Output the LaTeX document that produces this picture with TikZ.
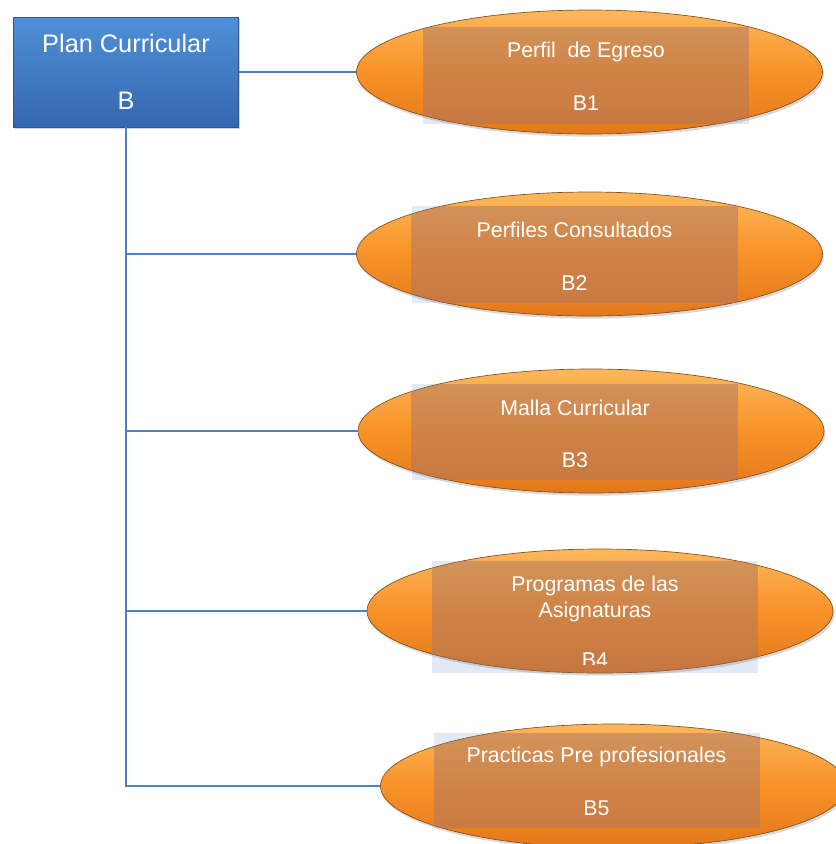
\documentclass[tikz,border=0pt]{standalone}
\usepackage{fontspec}
\setmainfont{Liberation Sans}
\usetikzlibrary{shapes.geometric,shadows}
\definecolor{boxtop}{RGB}{80,144,214}
\definecolor{boxbot}{RGB}{52,102,176}
\definecolor{linkblue}{RGB}{79,129,189}
\definecolor{leaftop}{RGB}{252,184,92}
\definecolor{leafmid}{RGB}{248,146,40}
\definecolor{leafbot}{RGB}{226,120,28}
\definecolor{leafedge}{RGB}{130,78,28}
\definecolor{tagbrown}{RGB}{170,118,100}
\definecolor{tagblue}{RGB}{226,234,246}

\begin{document}
\begin{tikzpicture}[x=0.75pt, y=-0.75pt,
    rootbox/.style={rectangle, minimum width=168.75pt, minimum height=82.5pt, inner sep=0pt,
        top color=boxtop, bottom color=boxbot, draw=boxbot!85!black, line width=0.4pt,
        drop shadow={shadow xshift=1.2pt, shadow yshift=-1.5pt, opacity=0.35},
        text=white, align=center, font=\fontsize{19}{23}\selectfont},
    leaf/.style={ellipse, minimum width=349.5pt, minimum height=93pt, inner sep=0pt,
        top color=leaftop, bottom color=leafbot, middle color=leafmid,
        draw=leafedge, line width=0.5pt,
        drop shadow={shadow xshift=1pt, shadow yshift=-2pt, opacity=0.3}},
    tag/.style={rectangle, minimum width=244.5pt, inner sep=0pt, fill=tagblue},
    tagtext/.style={text=white, align=center, inner sep=0pt, font=\fontsize{16}{19.5}\selectfont},
    link/.style={linkblue, line width=1.1pt}]

% Frame
\useasboundingbox (0,0) rectangle (836,844);

% Root box
\node[rootbox] (root) at (126,72) {Plan Curricular\\[20pt]B};

% Leaves (number / ellipse centre / tag centre / tag height)
\foreach \n/\ex/\ey/\tx/\ty/\th in {
1/589.5/72/586/75.5/72.75pt,
2/589.5/254/574.5/254.5/72.75pt,
3/591/431/574.5/432/72pt,
4/600/611/595/617/84pt,
5/613.5/786/597/780.5/71.25pt
} {
    \node[tag, minimum height=\th] (t\n) at (\tx,\ty) {};
    \node[leaf] (e\n) at (\ex,\ey) {};
    \begin{scope}
        \clip (e\n.center) ellipse [x radius=174.75pt, y radius=46.5pt];
        \fill[tagbrown, opacity=0.5] (t\n.north west) rectangle (t\n.south east);
    \end{scope}
}

% Connectors
\draw[link] (root.east) -- (e1.west);
\foreach \n in {2,...,5} {
    \draw[link] (root.south) |- (e\n.west);
}

% Labels
\node[tagtext] (l1) at (586,76.5) {Perfil~ de Egreso\\[20pt]B1};
\node[tagtext] (l2) at (574.5,256) {Perfiles Consultados\\[20pt]B2};
\node[tagtext] (l3) at (575,434) {Malla Curricular\\[20pt]B3};
\begin{scope}
    \clip (t4.north west) rectangle ([yshift=6.75pt]t4.south east);
    \node[tagtext] (l4) at (595,622) {Programas de las\\Asignaturas\\[18pt]B4};
\end{scope}
\node[tagtext] (l5) at (596.5,781.5) {Practicas Pre profesionales\\[20pt]B5};

\end{tikzpicture}
\end{document}
